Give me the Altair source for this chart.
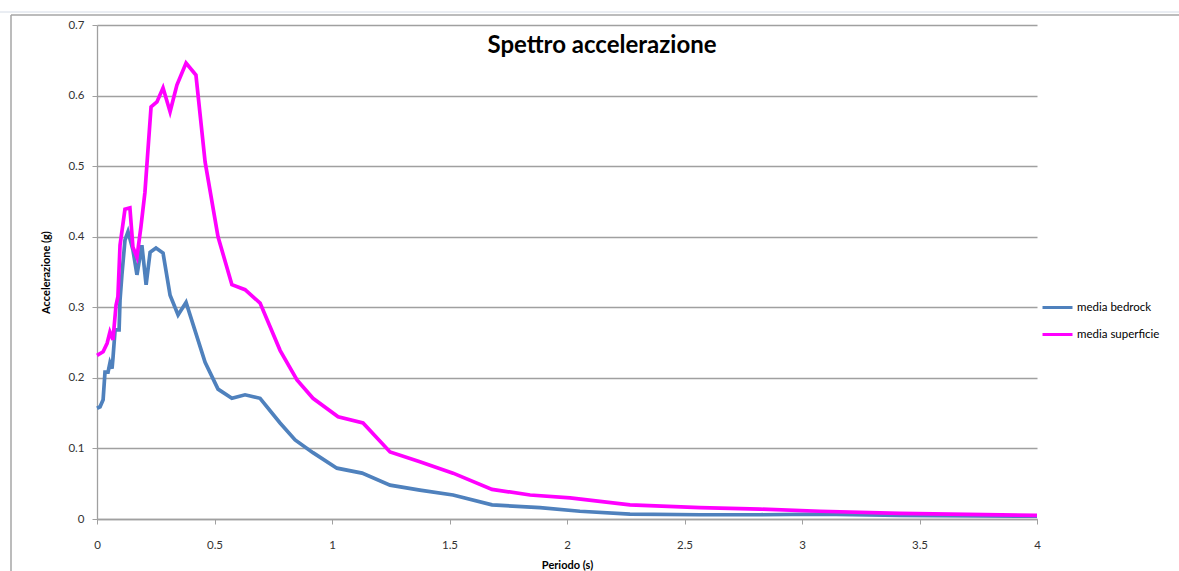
import altair as alt
import pandas as pd

# Response spectra: period (s) and spectral acceleration (g)
bedrock_period = [0.000, 0.013, 0.026, 0.034, 0.047, 0.055, 0.064, 0.068, 0.077, 0.094,
                  0.098, 0.106, 0.119, 0.132, 0.153, 0.170, 0.191, 0.209, 0.226, 0.251,
                  0.281, 0.311, 0.345, 0.379, 0.460, 0.515, 0.574, 0.630, 0.694, 0.779,
                  0.843, 0.919, 1.021, 1.128, 1.247, 1.374, 1.515, 1.681, 1.885, 2.055,
                  2.268, 2.566, 2.821, 3.077, 3.417, 4.000]
bedrock_acc = [0.157, 0.159, 0.169, 0.208, 0.208, 0.221, 0.213, 0.228, 0.268, 0.268,
               0.310, 0.346, 0.395, 0.407, 0.381, 0.346, 0.388, 0.332, 0.378, 0.384,
               0.377, 0.317, 0.289, 0.307, 0.222, 0.184, 0.171, 0.176, 0.171, 0.136,
               0.112, 0.094, 0.072, 0.065, 0.048, 0.041, 0.034, 0.020, 0.016, 0.011,
               0.007, 0.006, 0.006, 0.007, 0.005, 0.004]

surface_period = [0.000, 0.026, 0.043, 0.055, 0.068, 0.081, 0.089, 0.098, 0.119, 0.140,
                  0.153, 0.170, 0.187, 0.204, 0.230, 0.255, 0.281, 0.311, 0.340, 0.379,
                  0.421, 0.460, 0.515, 0.574, 0.630, 0.694, 0.779, 0.851, 0.919, 1.026,
                  1.132, 1.247, 1.374, 1.515, 1.681, 1.843, 2.013, 2.268, 2.566, 2.821,
                  3.077, 3.417, 4.000]
surface_acc = [0.232, 0.237, 0.249, 0.265, 0.254, 0.303, 0.315, 0.388, 0.439, 0.441,
               0.385, 0.371, 0.414, 0.463, 0.584, 0.591, 0.611, 0.577, 0.615, 0.646,
               0.629, 0.506, 0.400, 0.332, 0.325, 0.306, 0.239, 0.197, 0.171, 0.145,
               0.136, 0.095, 0.081, 0.065, 0.042, 0.034, 0.030, 0.020, 0.016, 0.014,
               0.011, 0.008, 0.005]

series_names = ["media bedrock", "media superficie"]
series_colors = ["#4f81bd", "#ff00ff"]

df = pd.concat([
    pd.DataFrame({"periodo": bedrock_period, "acc": bedrock_acc,
                  "serie": series_names[0], "ord": range(len(bedrock_period))}),
    pd.DataFrame({"periodo": surface_period, "acc": surface_acc,
                  "serie": series_names[1], "ord": range(len(surface_period))}),
])

FONT = "Lato"
GRID = "#a0a0a0"

lines = alt.Chart(df).mark_line(strokeWidth=3.7, strokeJoin="miter").encode(
    x=alt.X("periodo:Q",
            scale=alt.Scale(domain=[0, 4], nice=False),
            axis=alt.Axis(title="Periodo (s)", values=[0, 0.5, 1, 1.5, 2, 2.5, 3, 3.5, 4],
                          format=".1~f", grid=False, tickSize=5, labelPadding=15,
                          titlePadding=9, titleFontWeight="bold", titleFontSize=11,
                          labelFontSize=11.5, labelFlush=False)),
    y=alt.Y("acc:Q",
            scale=alt.Scale(domain=[0, 0.7], nice=False),
            axis=alt.Axis(title="Accelerazione (g)", values=[0, 0.1, 0.2, 0.3, 0.4, 0.5, 0.6, 0.7],
                          format=".1~f", grid=True, tickSize=5, labelPadding=8,
                          titlePadding=16, titleFontWeight="bold", titleFontSize=11,
                          labelFontSize=11.5)),
    color=alt.Color("serie:N",
                    scale=alt.Scale(domain=series_names, range=series_colors),
                    legend=alt.Legend(title=None, orient="none", legendX=944, legendY=266,
                                      symbolType="stroke", symbolSize=900,
                                      symbolStrokeWidth=3, labelFontSize=11.5,
                                      rowPadding=4, labelOffset=3)),
    order="ord:Q",
)

# Sheet frame around the chart object
frame_left = alt.Chart().mark_rule(color="#a6a6a6", strokeWidth=1.5).encode(
    x=alt.value(-86), y=alt.value(-10), y2=alt.value(546))
frame_top = alt.Chart().mark_rule(color="#a6a6a6", strokeWidth=1.5).encode(
    x=alt.value(-86), x2=alt.value(1082), y=alt.value(-10))
sheet_line = alt.Chart().mark_rule(color="#d4dbe6", strokeWidth=1).encode(
    x=alt.value(-97), x2=alt.value(1082), y=alt.value(-13))

chart = alt.layer(sheet_line, frame_left, frame_top, lines).properties(
    width=940, height=494,
    autosize="none",
    padding={"left": 97, "top": 25, "right": 142, "bottom": 52},
    title=alt.TitleParams("Spettro accelerazione", font=FONT, fontSize=24,
                          fontWeight="bold", color="#000000", anchor="middle",
                          dx=35, dy=50),
).configure_axis(
    labelFont=FONT, titleFont=FONT, labelColor="#333333", titleColor="#000000",
    gridColor=GRID, domainColor=GRID, tickColor=GRID, gridWidth=1.3, domainWidth=1.3,
).configure_legend(
    labelFont=FONT, labelColor="#000000",
).configure_view(stroke=None)

chart.save("out.html", embed_options={"renderer": "svg", "actions": False})
